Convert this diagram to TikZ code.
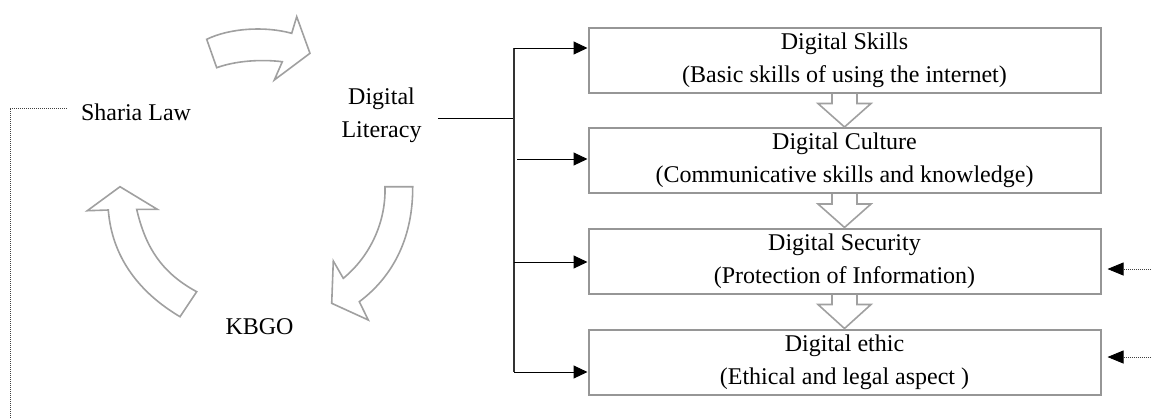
\documentclass[tikz,border=0pt]{standalone}
\usepackage{fontspec}
\setmainfont{Liberation Serif}
\usetikzlibrary{arrows.meta,calc}
\definecolor{boxgray}{RGB}{150,150,150}
\definecolor{flowgray}{RGB}{160,160,160}

% hollow arrow joining the bottom of one stage to the top of the next
\newcommand\stepdown[2]{%
  \draw[blockarrow]
    ($(#1.south)+(-12.5,0)$) -- ($(#1.south)+(-12.5,10)$) -- ($(#1.south)+(-26.5,10)$)
    -- (#2.north)
    -- ($(#1.south)+(26.5,10)$) -- ($(#1.south)+(12.5,10)$) -- ($(#1.south)+(12.5,0)$);
}

\begin{document}
\begin{tikzpicture}[x=0.5pt,y=-0.5pt,
  every node/.style={font=\fontsize{12}{16.5}\selectfont, text=black},
  stage/.style={draw=boxgray, line width=1pt, minimum width=256pt, minimum height=32.5pt,
                align=center, inner sep=0pt},
  blockarrow/.style={draw=flowgray, line width=0.8pt, line join=miter},
  cyclearrow/.style={draw=flowgray, line width=0.8pt, fill=white, line join=miter},
  feed/.style={line width=0.5pt, -{Triangle[length=7pt,width=6.5pt]}},
  hint/.style={dash pattern=on 0.4pt off 0.6pt, line width=0.4pt, draw=black!75},
  hintarrow/.style={hint, -{Triangle[length=8pt,width=6.5pt,color=black,fill=black]}},
]
\useasboundingbox (0,0) rectangle (1151,419);

% ---- cycle of curved block arrows ----
\draw[cyclearrow]
  (206.7,39.3) .. controls (230,28) and (265,26) .. (291.7,33.3)
  -- (296.7,16.7) -- (310,53.3) -- (274.3,80) -- (282.3,61.7)
  .. controls (260,59) and (235,61) .. (216.7,67.7) -- cycle;
\draw[cyclearrow]
  (385,186.7) -- (412.7,186.7)
  .. controls (413,235) and (395,275) .. (359.3,301.7)
  -- (368.3,320) -- (331.7,303.3) -- (333.3,261) -- (343.3,278.3)
  .. controls (368,258) and (386,225) .. (385,186.7) -- cycle;
\draw[cyclearrow]
  (120,186.7) -- (157.3,209.3) -- (136.7,209.3)
  .. controls (145,245) and (160,272) .. (196.7,291.7)
  -- (180,316.7)
  .. controls (140,293) and (112,258) .. (108.3,210)
  -- (87.3,210.7) -- cycle;

% ---- cycle labels ----
\node (sharia) [anchor=base] at (136,120) {Sharia Law};
\node (lit) [align=center, inner xsep=8pt] at (381.5,115) {Digital\\Literacy};
\node (kbgo) [anchor=base] at (259.5,334) {KBGO};

% ---- stages ----
\node[stage] (b1) at (844.5,60)    {Digital Skills\\(Basic skills of using the internet)};
\node[stage] (b2) at (844.5,160.5) {Digital Culture\\(Communicative skills and knowledge)};
\node[stage] (b3) at (844.5,261)   {Digital Security\\(Protection of Information)};
\node[stage] (b4) at (844.5,362)   {Digital ethic\\(Ethical and legal aspect )};

\stepdown{b1}{b2}
\stepdown{b2}{b3}
\stepdown{b3}{b4}

% ---- branching from Digital Literacy ----
\coordinate (fork) at (514,118);
\coordinate (top)  at (514,48);
\coordinate (bot)  at (514,372);
\coordinate (c2)   at (517,159);
\coordinate (c3)   at (514,262);
\draw[line width=0.5pt] (lit.east |- fork) -- (fork);
\draw[line width=0.6pt, draw=black!80] (top) -- (bot);
\draw[feed] (top) -- (top -| b1.west);
\draw[feed] (c2)  -- (c2 -| b2.west);
\draw[feed] (c3)  -- (c3 -| b3.west);
\draw[feed] (bot) -- (bot -| b4.west);

% ---- dotted links ----
\coordinate (r3) at (1151,269);
\coordinate (r4) at (1151,357);
\coordinate (lb) at (10,419);
\draw[hintarrow, shorten >=3pt] (r3) -- (r3 -| b3.east);
\draw[hintarrow, shorten >=3pt] (r4) -- (r4 -| b4.east);
\draw[hint] ([xshift=-3.5pt,yshift=1.75pt]sharia.west) -| (lb);
\end{tikzpicture}
\end{document}
